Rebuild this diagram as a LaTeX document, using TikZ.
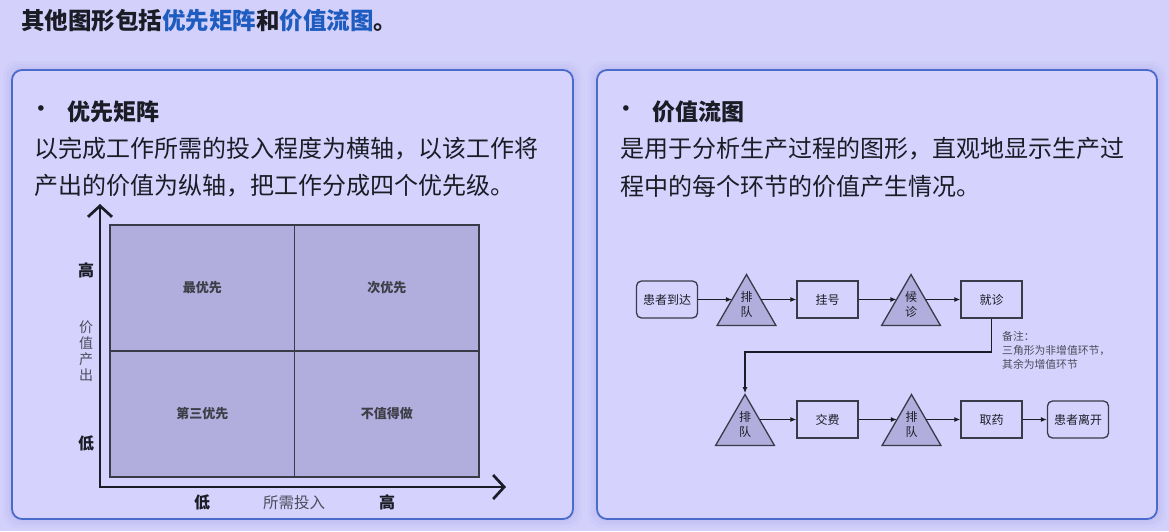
\documentclass[tikz,border=0pt]{standalone}
\usepackage{fontspec}
\setmainfont{Noto Sans CJK SC}
\newfontfamily\symfont{DejaVu Sans}
\usetikzlibrary{arrows.meta,shapes.geometric,calc}

\definecolor{pagebg}{HTML}{D3D1FB}
\definecolor{panelbg}{HTML}{D5D3FD}
\definecolor{panelframe}{HTML}{4A6BCB}
\definecolor{glowc}{HTML}{A9A8E6}
\definecolor{titleblue}{HTML}{1F5CC0}
\definecolor{cellfill}{HTML}{B1ADDD}
\definecolor{ink}{HTML}{1C1C26}
\definecolor{gridline}{HTML}{3A3A48}
\definecolor{softink}{HTML}{4C4C5C}

\newcommand{\fs}[2]{\fontsize{#1}{#2}\selectfont}

\tikzset{
  panel/.style={draw=panelframe, line width=1.8pt, fill=panelbg, rounded corners=10pt},
  glow/.style={fill=glowc, rounded corners=14pt},
  txt/.style={inner sep=0pt, anchor=west, text=ink},
  heading/.style={txt, font=\fs{23}{28}\bfseries},
  body/.style={txt, font=\fs{24}{28}},
  bullet/.style={inner sep=0pt, text=ink, font=\symfont\fs{19}{20}},
  cell/.style={draw=gridline, line width=1.5pt, fill=cellfill, minimum width=184.5pt,
    minimum height=126pt, inner sep=0pt, text=ink!85, font=\fs{13}{15}\bfseries},
  axis/.style={draw=ink, line width=2.7pt,
    {Straight Barb[length=11pt,width=24pt]}-{Straight Barb[length=11pt,width=24pt]}},
  axlabel/.style={inner sep=0pt, text=ink, font=\fs{16}{18}\bfseries},
  axname/.style={inner sep=0pt, text=softink, font=\fs{14}{16}, align=center},
  box/.style={draw=gridline, line width=1.3pt, minimum width=61pt, minimum height=37pt,
    inner sep=0pt, text=ink, font=\fs{12}{14}},
  terminal/.style={box, rounded corners=5pt},
  tri/.style={regular polygon, regular polygon sides=3, minimum size=68pt, inner sep=0pt,
    draw=gridline, line width=1.3pt, fill=cellfill},
  tritext/.style={inner sep=0pt, text=ink, font=\fs{12}{15}, align=center},
  flow/.style={draw=ink, line width=1.8pt, -{Latex[length=6pt,width=5pt]}},
  note/.style={inner sep=0pt, anchor=west, text=softink, font=\fs{10.8}{14}, align=left},
}

\begin{document}
\begin{tikzpicture}[x=1pt, y=-1pt]
  % page
  \fill[pagebg] (0,0) rectangle (1169,531);
  \useasboundingbox (0,0) rectangle (1169,531);

  % soft shadows around both panels
  \foreach \d/\o in {9/0.10, 6/0.12, 3/0.15} {
    \fill[glow, opacity=\o] (12-\d,70-\d) rectangle (573+\d,519+\d);
    \fill[glow, opacity=\o] (597-\d,70-\d) rectangle (1157+\d,519+\d);
  }
  \draw[panel] (12,70) rectangle (573,519);
  \draw[panel] (597,70) rectangle (1157,519);

  % headline
  \node[txt, font=\fs{23.5}{26}\bfseries] (title) at (21,21)
    {其他图形包括\textcolor{titleblue}{优先矩阵}和\textcolor{titleblue}{价值流图}。};

  % left panel text
  \node[bullet] (bl) at (41,111) {•};
  \node[heading] (hl) at (67,112) {优先矩阵};
  \node[body] (l1) at (34,149) {以完成工作所需的投入程度为横轴，以该工作将};
  \node[body] (l2) at (34,186) {产出的价值为纵轴，把工作分成四个优先级。};

  % right panel text
  \node[bullet] (br) at (626,111) {•};
  \node[heading] (hr) at (652,112) {价值流图};
  \node[body] (r1) at (620,149) {是用于分析生产过程的图形，直观地显示生产过};
  \node[body] (r2) at (620,186) {程中的每个环节的价值产生情况。};

  % ---------- priority matrix ----------
  \node[cell] (c11) at (202.25,288) {最优先};
  \node[cell] (c12) at (386.75,288) {次优先};
  \node[cell] (c21) at (202.25,414) {第三优先};
  \node[cell] (c22) at (386.75,414) {不值得做};

  \coordinate (ytip) at (100,204);
  \coordinate (orig) at (100,487);
  \coordinate (xtip) at (506,487);
  \draw[axis] (ytip) -- (orig) -- (xtip);

  \node[axlabel] (yhi) at (86,270) {高};
  \node[axname] (yname) at (86,351) {价\\值\\产\\出};
  \node[axlabel] (ylo) at (86,443) {低};
  \node[axlabel] (xlo) at (202,502) {低};
  \node[axname, font=\fs{15.5}{18}] (xname) at (294,503) {所需投入};
  \node[axlabel] (xhi) at (387,502) {高};

  % ---------- value stream map ----------
  \node[terminal] (arr) at (667,299.5) {患者到达};
  \node[tri] (q1) at (746.5,308.5) {};
  \node[tritext] (q1t) at (746.5,304.5) {排\\队};
  \node[box] (reg) at (827.5,299.5) {挂号};
  \node[tri] (q2) at (911,308.5) {};
  \node[tritext] (q2t) at (911,304.5) {候\\诊};
  \node[box] (doc) at (991.5,299.5) {就诊};

  \node[tri] (q3) at (745,428.5) {};
  \node[tritext] (q3t) at (745,424.5) {排\\队};
  \node[box] (pay) at (827.5,419.5) {交费};
  \node[tri] (q4) at (911.5,428.5) {};
  \node[tritext] (q4t) at (911.5,424.5) {排\\队};
  \node[box] (med) at (991.5,419.5) {取药};
  \node[terminal] (out) at (1078,419.5) {患者离开};

  \draw[flow] (arr.east) -- (arr.east -| q1.145);
  \draw[flow] (reg.west -| q1.35) -- (reg.west);
  \draw[flow] (reg.east) -- (reg.east -| q2.145);
  \draw[flow] (doc.west -| q2.35) -- (doc.west);

  \coordinate (bend) at (0,352);
  \draw[flow] (doc.south) -- (doc.south |- bend) -| (q3.north);

  \draw[flow] (pay.west -| q3.35) -- (pay.west);
  \draw[flow] (pay.east) -- (pay.east -| q4.145);
  \draw[flow] (med.west -| q4.35) -- (med.west);
  \draw[flow] (med.east) -- (out.west);

  \node[note] (legend) at (1002,350) {备注：\\三角形为非增值环节，\\其余为增值环节};
\end{tikzpicture}
\end{document}
